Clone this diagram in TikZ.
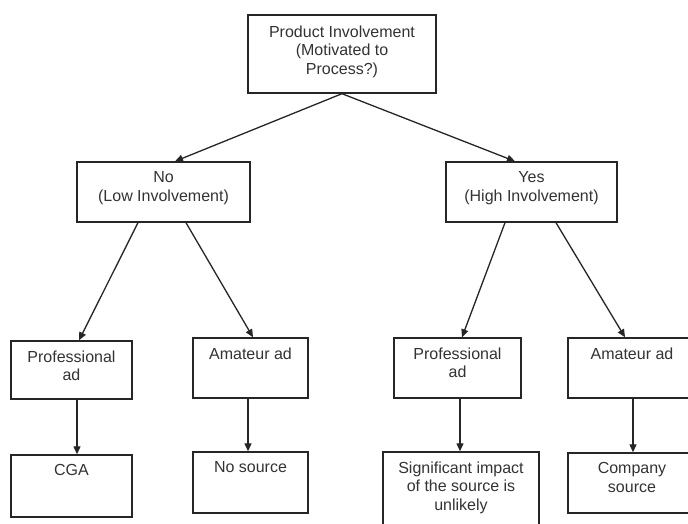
\documentclass[tikz,border=0pt]{standalone}
\usepackage{fontspec}
\setmainfont{Liberation Sans}
\usetikzlibrary{arrows.meta}
\definecolor{inkline}{HTML}{262626}
\definecolor{inktext}{HTML}{333333}
\begin{document}
\begin{tikzpicture}[x=1pt,y=-1pt,
  box/.style={draw=inkline, line width=1.4pt, rectangle, inner sep=0pt},
  lbl/.style={anchor=north, inner sep=0pt, align=center, text=inktext,
    font=\fontsize{16}{18.5}\selectfont},
  arr/.style={draw=inkline, line width=1.3pt,
    -{Triangle[length=8pt,width=7pt]}}]
\useasboundingbox (0,0) rectangle (688,524);
\fill[white] (0,0) rectangle (688,524);

% boxes (centre, width, height)
\node[box, minimum width=188pt, minimum height=78pt] (top)   at (342,54)    {};
\node[box, minimum width=173pt, minimum height=60pt] (no)    at (163.5,192) {};
\node[box, minimum width=171pt, minimum height=60pt] (yes)   at (531.5,192) {};
\node[box, minimum width=121pt, minimum height=58pt] (profL) at (71.5,370)  {};
\node[box, minimum width=115pt, minimum height=60pt] (amL)   at (250.5,368) {};
\node[box, minimum width=127pt, minimum height=60pt] (profR) at (457.5,368) {};
\node[box, minimum width=128pt, minimum height=60pt] (amR)   at (632,368)   {};
\node[box, minimum width=121pt, minimum height=62pt] (cga)   at (71.5,486)  {};
\node[box, minimum width=115pt, minimum height=61pt] (nosrc) at (250.5,482.5) {};
\node[box, minimum width=156pt, minimum height=110pt] (sig)  at (461,507)   {};
\node[box, minimum width=128pt, minimum height=60pt] (comp)  at (632,483)   {};

% texts, set near the top of each box
\node[lbl] (tTop)   at ([yshift=-11pt]top.north)   {Product Involvement\\(Motivated to\\Process?)};
\node[lbl] (tNo)    at ([yshift=-10pt]no.north)    {No\\(Low Involvement)};
\node[lbl] (tYes)   at ([yshift=-10pt]yes.north)   {Yes\\(High Involvement)};
\node[lbl] (tProfL) at ([yshift=-10pt]profL.north) {Professional\\ad};
\node[lbl] (tAmL)   at ([yshift=-10pt]amL.north)   {Amateur ad};
\node[lbl] (tProfR) at ([yshift=-10pt]profR.north) {Professional\\ad};
\node[lbl] (tAmR)   at ([yshift=-10pt]amR.north)   {Amateur ad};
\node[lbl] (tCga)   at ([yshift=-10pt]cga.north)   {CGA};
\node[lbl] (tNosrc) at ([yshift=-10pt]nosrc.north) {No source};
\node[lbl] (tSig)   at ([yshift=-10pt]sig.north)   {Significant impact\\of the source is\\unlikely};
\node[lbl] (tComp)  at ([yshift=-10pt]comp.north)  {Company\\source};

% connectors
\draw[arr] (top.south) -- ([xshift=11.5pt]no.north);
\draw[arr] (top.south) -- ([xshift=-16.5pt]yes.north);
\draw[arr] ([xshift=-25.5pt]no.south) -- ([xshift=7.5pt]profL.north);
\draw[arr] ([xshift=22.5pt]no.south)  -- ([xshift=2.5pt]amL.north);
\draw[arr] ([xshift=-26.5pt]yes.south) -- ([xshift=4.5pt]profR.north);
\draw[arr] ([xshift=24.5pt]yes.south)  -- ([xshift=-7pt]amR.north);
\draw[arr] ([xshift=5.5pt]profL.south) -- ([xshift=5.5pt]cga.north);
\draw[arr] ([xshift=-2.5pt]amL.south)  -- ([xshift=-2.5pt]nosrc.north);
\draw[arr] ([xshift=2.5pt]profR.south) -- ([xshift=-1pt]sig.north);
\draw[arr] ([xshift=1pt]amR.south)     -- ([xshift=1pt]comp.north);
\end{tikzpicture}
\end{document}
